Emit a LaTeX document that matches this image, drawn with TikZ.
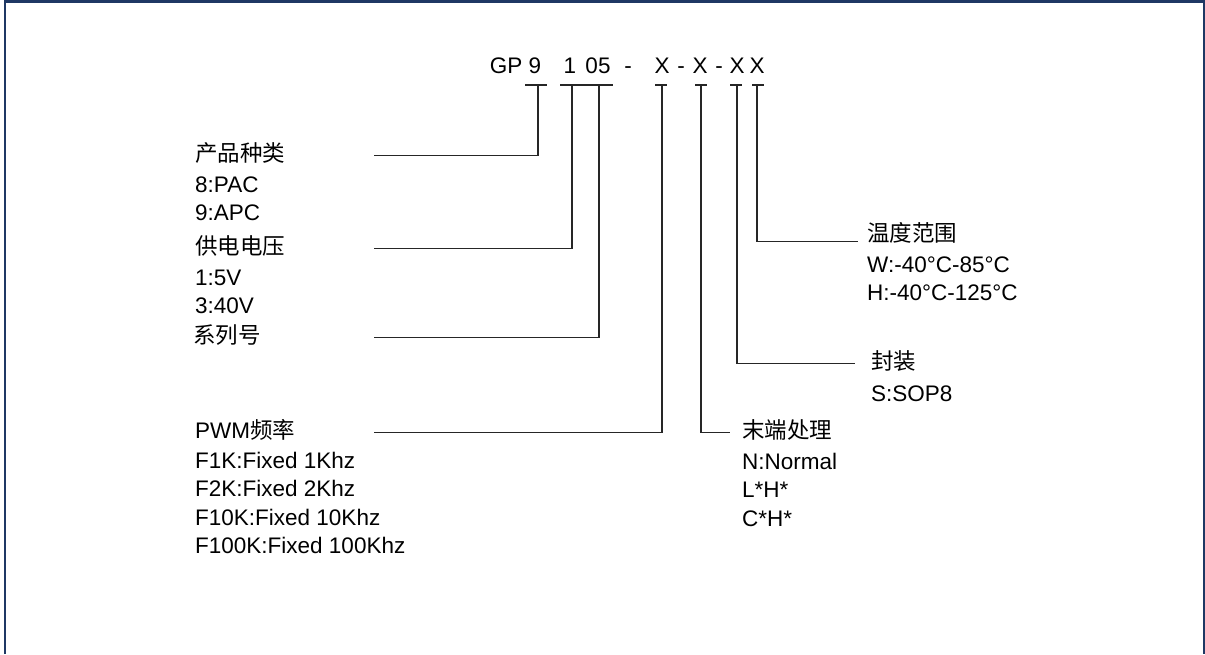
\documentclass[tikz,border=0pt]{standalone}
\usepackage{fontspec}
\setmainfont{Liberation Sans}
\newfontfamily\cjk{Noto Sans CJK SC}
\usetikzlibrary{positioning}
\definecolor{framenavy}{RGB}{31,56,100}
\tikzstyle{every node}=[inner sep=0pt,text height=17pt,text depth=5.5pt,font=\fontsize{22.5}{27}\selectfont]
\tikzstyle{head}=[anchor=base west]
\tikzstyle{part}=[anchor=base]
\tikzstyle{lft}=[anchor=north west]
\tikzstyle{lead}=[draw=black!85,line width=1.5pt]

\begin{document}
\begin{tikzpicture}[x=1pt,y=-1pt,node distance=5.5pt]
  \useasboundingbox (0,0) rectangle (1205,654);
  \draw[framenavy,line width=2.5pt] (5,654) -- (5,1.25) -- (1203.75,1.25) -- (1203.75,654);

  % part number
  \node[part] (gp)  at (506,73) {GP};
  \node[part] (s9)  at (535,73) {9};
  \node[part] (s1)  at (570,73) {1};
  \node[part] (s05) at (598,73) {05};
  \node[part] (d1)  at (628,73) {-};
  \node[part] (xa)  at (662,73) {X};
  \node[part] (d2)  at (681,73) {-};
  \node[part] (xb)  at (700,73) {X};
  \node[part] (d3)  at (719,73) {-};
  \node[part] (xc)  at (737,73) {X};
  \node[part] (xd)  at (757,73) {X};

  \coordinate (t1) at (538,85);
  \coordinate (t2) at (572,85);
  \coordinate (t3) at (599,85);
  \coordinate (t4) at (662,85);
  \coordinate (t5) at (701,85);
  \coordinate (t6) at (737,85);
  \coordinate (t7) at (757,85);
  \coordinate (lx) at (374,0);

  % left column
  \node[head] (kind)   at (195,161) {\cjk 产品种类};
  \node (kind1) [below=8.5pt of kind.south west,lft] {8:PAC};
  \node (kind2) [below=of kind1.south west,lft] {9:APC};
  \node[head] (volt)   at (195,254) {\cjk 供电电压};
  \node (volt1) [below=8.5pt of volt.south west,lft] {1:5V};
  \node (volt2) [below=of volt1.south west,lft] {3:40V};
  \node[head] (series) at (193,343) {\cjk 系列号};
  \node[head] (pwm)    at (195,438) {PWM{\cjk 频率}};
  \node (pwm1) [below=7.5pt of pwm.south west,lft] {F1K:Fixed 1Khz};
  \node (pwm2) [below=of pwm1.south west,lft] {F2K:Fixed 2Khz};
  \node (pwm3) [below=of pwm2.south west,lft] {F10K:Fixed 10Khz};
  \node (pwm4) [below=of pwm3.south west,lft] {F100K:Fixed 100Khz};

  % right column
  \node[head] (temp) at (867,241) {\cjk 温度范围};
  \node (temp1) [below=8.5pt of temp.south west,lft] {W:-40°C-85°C};
  \node (temp2) [below=of temp1.south west,lft] {H:-40°C-125°C};
  \node[head] (pkg)  at (871,369) {\cjk 封装};
  \node (pkg1) [below=10pt of pkg.south west,lft] {S:SOP8};
  \node[head] (tail) at (742,438) {\cjk 末端处理};
  \node (tail1) [below=8.5pt of tail.south west,lft] {N:Normal};
  \node (tail2) [below=of tail1.south west,lft] {L*H*};
  \node (tail3) [below=of tail2.south west,lft] {C*H*};

  % tee marks
  \draw[lead] ([xshift=-13pt]t1) -- ([xshift=9pt]t1);
  \draw[lead] ([xshift=-12pt]t2) -- ([xshift=10pt]t2);
  \draw[lead] ([xshift=-17pt]t3) -- ([xshift=14pt]t3);
  \draw[lead] ([xshift=-7pt]t4) -- ([xshift=5pt]t4);
  \draw[lead] ([xshift=-6pt]t5) -- ([xshift=6pt]t5);
  \draw[lead] ([xshift=-7pt]t6) -- ([xshift=5pt]t6);
  \draw[lead] ([xshift=-5pt]t7) -- ([xshift=7pt]t7);

  \draw[lead] (t1) |- (kind.west -| lx);
  \draw[lead] (t2) |- (volt.west -| lx);
  \draw[lead] (t3) |- (series.west -| lx);
  \draw[lead] (t4) |- (pwm.west -| lx);
  \draw[lead] (t5) |- ([xshift=-12pt]tail.west);
  \draw[lead] (t6) |- ([xshift=-16pt]pkg.west);
  \draw[lead] (t7) |- ([xshift=-9pt,yshift=-6pt]temp.west);
\end{tikzpicture}
\end{document}
